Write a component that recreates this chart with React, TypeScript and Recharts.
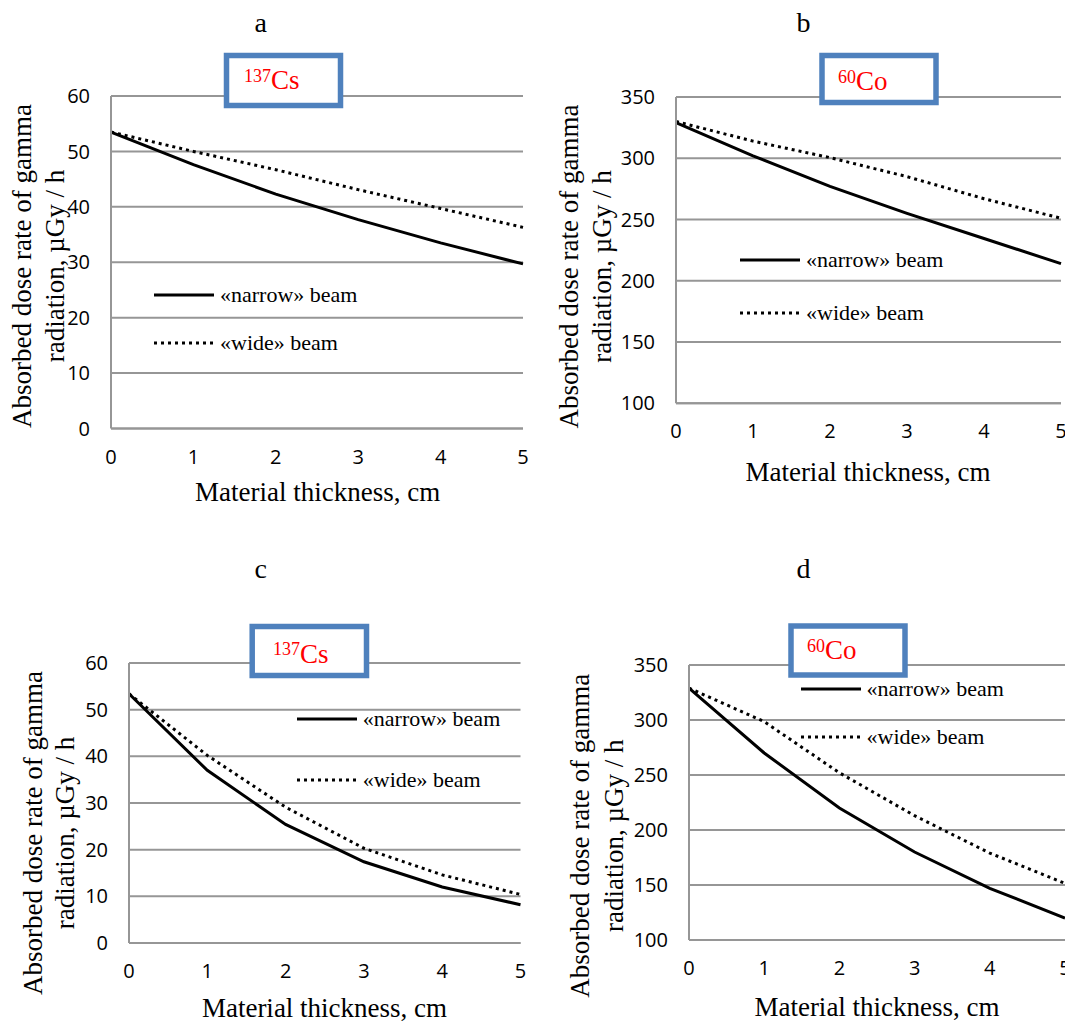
import React from 'react';
import { LineChart, Line, XAxis, YAxis, CartesianGrid, Legend } from 'recharts';

// ---------- data ----------
const thickness = [0, 1, 2, 3, 4, 5];
const xTicks = [0, 1, 2, 3, 4, 5];
const csTicks = [0, 10, 20, 30, 40, 50, 60];
const coTicks = [100, 150, 200, 250, 300, 350];

const narrowA = [53.5, 47.6, 42.3, 37.7, 33.5, 29.7];
const wideA = [53.5, 50.0, 46.7, 43.1, 39.7, 36.3];
const narrowB = [329, 302, 277, 255, 234.5, 214];
const wideB = [330, 314, 300.5, 285, 267, 251];
const narrowC = [53.4, 37.0, 25.4, 17.4, 12.0, 8.2];
const wideC = [53.4, 40.2, 29.1, 20.3, 14.6, 10.4];
const narrowD = [329, 270, 220, 180, 147, 120];
const wideD = [329, 298.5, 252, 213, 179, 151.5];

const panelLetters = ['a', 'b', 'c', 'd'];
const isotopeMass = ['137', '60', '137', '60'];
const isotopeSymbol = ['Cs', 'Co', 'Cs', 'Co'];
const narrowName = '«narrow» beam';
const wideName = '«wide» beam';
const yLabel1 = 'Absorbed dose rate of gamma';
const yLabel2 = 'radiation, µGy / h';
const xLabel = 'Material thickness, cm';

// ---------- layout ----------
const GRID = '#969696';
const BLUE = '#4F81BD';
const SERIF = '"Liberation Serif", "Times New Roman", serif';
const SANS = '"Open Sans", "Noto Sans", sans-serif';
const ML = 80, MT = 20, MR = 20, MB = 60;

const panels = [
  {
    plot: { left: 111, right: 523, top: 96, bottom: 428.5 },
    domain: [0, 60], ticks: csTicks, narrow: narrowA, wide: wideA,
    legend: { x: 154, y1: 294.7, gap: 48 },
    title: { x: 260.7, y: 31.5 },
    box: { x: 226.5, y: 55.5, w: 114, h: 50, tx: 244, ty: 89.3 },
    yl: { x1: 22.4, x2: 55, y: 266 },
    xl: { x: 317.7, y: 491.7 },
  },
  {
    plot: { left: 676, right: 1061, top: 96.7, bottom: 403 },
    domain: [100, 350], ticks: coTicks, narrow: narrowB, wide: wideB,
    legend: { x: 740, y1: 260, gap: 52.7 },
    title: { x: 803.5, y: 31.5 },
    box: { x: 822, y: 55.5, w: 114, h: 47, tx: 838, ty: 90 },
    yl: { x1: 568.5, x2: 602, y: 266.5 },
    xl: { x: 868, y: 471.7 },
  },
  {
    plot: { left: 129, right: 520.5, top: 662.7, bottom: 942.7 },
    domain: [0, 60], ticks: csTicks, narrow: narrowC, wide: wideC,
    legend: { x: 296.8, y1: 719.3, gap: 60.7 },
    title: { x: 260.7, y: 578.3 },
    box: { x: 252.2, y: 626.5, w: 114.3, h: 49, tx: 273, ty: 662.7 },
    yl: { x1: 32.7, x2: 65.4, y: 833 },
    xl: { x: 324.5, y: 1008 },
  },
  {
    plot: { left: 689, right: 1065, top: 665, bottom: 940 },
    domain: [100, 350], ticks: coTicks, narrow: narrowD, wide: wideD,
    legend: { x: 800.5, y1: 689, gap: 48.3 },
    title: { x: 803.5, y: 578.3 },
    box: { x: 791, y: 626, w: 114, h: 49, tx: 807, ty: 659.3 },
    yl: { x1: 580, x2: 613.7, y: 835.7 },
    xl: { x: 877, y: 1006.7 },
  },
];

const LegendContent = (props: any) => {
  const { payload, gap } = props;
  return (
    <div>
      {(payload || []).map((entry: any, i: number) => {
        const dotted = entry.dataKey === 'wide';
        return (
          <div key={i} style={{ height: gap, display: 'flex', alignItems: 'center' }}>
            <svg width={60} height={8} style={{ display: 'block' }}>
              <line x1={0} y1={4} x2={60} y2={4} stroke="#000" strokeWidth={3}
                strokeDasharray={dotted ? '3 4' : undefined} />
            </svg>
            <span style={{ marginLeft: 6, fontFamily: SERIF, fontSize: 22, whiteSpace: 'nowrap', color: '#000', lineHeight: 1 }}>
              {entry.value}
            </span>
          </div>
        );
      })}
    </div>
  );
};

const Panel = ({ p }: { p: any }) => {
  const data = thickness.map((t, i) => ({ x: t, narrow: p.narrow[i], wide: p.wide[i] }));
  const chartLeft = p.plot.left - ML;
  const chartTop = p.plot.top - MT;
  const width = p.plot.right - p.plot.left + ML + MR;
  const height = p.plot.bottom - p.plot.top + MT + MB;
  return (
    <div style={{ position: 'absolute', left: chartLeft, top: chartTop }}>
      <LineChart width={width} height={height} data={data}
        margin={{ top: MT, right: MR, bottom: 0, left: 0 }}>
        <CartesianGrid vertical={false} stroke={GRID} strokeWidth={2} />
        <XAxis dataKey="x" type="number" domain={[0, 5]} ticks={xTicks} interval={0}
          height={MB} tickLine={false} tickSize={0} tickMargin={21}
          axisLine={{ stroke: GRID, strokeWidth: 2 }}
          tick={{ fill: '#000', fontSize: 20, fontFamily: SANS }} />
        <YAxis type="number" domain={p.domain} ticks={p.ticks} interval={0}
          width={ML} tickLine={false} tickSize={0} tickMargin={21}
          axisLine={{ stroke: GRID, strokeWidth: 2 }}
          tick={{ fill: '#000', fontSize: 20, fontFamily: SANS }} />
        <Line type="linear" dataKey="narrow" name={narrowName} stroke="#000" strokeWidth={3}
          dot={false} activeDot={false} isAnimationActive={false} />
        <Line type="linear" dataKey="wide" name={wideName} stroke="#000" strokeWidth={3}
          strokeDasharray="3 4" dot={false} activeDot={false} isAnimationActive={false} />
        <Legend layout="vertical" align="center" verticalAlign="middle"
          content={<LegendContent gap={p.legend.gap} />}
          wrapperStyle={{ left: p.legend.x - chartLeft, top: p.legend.y1 - p.legend.gap / 2 - chartTop, width: 260 }} />
      </LineChart>
    </div>
  );
};

export default function App() {
  return (
    <div style={{ position: 'absolute', left: 0, top: 0, width: 1065, height: 1023, overflow: 'hidden', background: '#fff' }}>
      {panels.map((p, i) => <Panel key={i} p={p} />)}
      <svg width={1065} height={1023} style={{ position: 'absolute', left: 0, top: 0, pointerEvents: 'none' }}>
        {panels.map((p, i) => (
          <g key={i}>
            <text x={p.title.x} y={p.title.y} textAnchor="middle" fontFamily={SERIF} fontSize={28} fill="#000">
              {panelLetters[i]}
            </text>
            <rect x={p.box.x} y={p.box.y} width={p.box.w} height={p.box.h} fill="#fff" stroke={BLUE} strokeWidth={5.5} />
            <text x={p.box.tx} y={p.box.ty} fontFamily={SERIF} fill="#FF0000">
              <tspan fontSize={18} dy={-7.5}>{isotopeMass[i]}</tspan>
              <tspan fontSize={27} dy={7.5}>{isotopeSymbol[i]}</tspan>
            </text>
            <text transform={`translate(${p.yl.x1},${p.yl.y}) rotate(-90)`} textAnchor="middle"
              dominantBaseline="central" fontFamily={SERIF} fontSize={27} fill="#000">{yLabel1}</text>
            <text transform={`translate(${p.yl.x2},${p.yl.y}) rotate(-90)`} textAnchor="middle"
              dominantBaseline="central" fontFamily={SERIF} fontSize={27} fill="#000">{yLabel2}</text>
            <text x={p.xl.x} y={p.xl.y} textAnchor="middle" dominantBaseline="central"
              fontFamily={SERIF} fontSize={27} fill="#000">{xLabel}</text>
          </g>
        ))}
      </svg>
    </div>
  );
}
